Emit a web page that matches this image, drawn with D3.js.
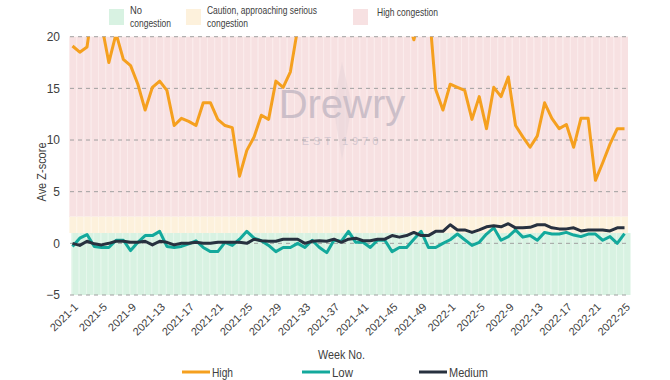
<!DOCTYPE html>
<html>
<head>
<meta charset="utf-8">
<script src="https://cdn.jsdelivr.net/npm/d3@7"></script>
<style>
  body { margin: 0; background: #fff; }
  svg text { fill: #404040; font-family: "Liberation Sans", Arial, sans-serif; }
</style>
</head>
<body>
<script>
'use strict';

// week labels: 2021-1 .. 2021-52, 2022-1 .. 2022-25
const weeks = [];
for (let w = 1; w <= 52; w++) weeks.push('2021-' + w);
for (let w = 1; w <= 25; w++) weeks.push('2022-' + w);

// labels shown on the x axis (every 4th week)
const tickWeeks = ['2021-1', '2021-5', '2021-9', '2021-13', '2021-17', '2021-21', '2021-25',
  '2021-29', '2021-33', '2021-37', '2021-41', '2021-45', '2021-49',
  '2022-1', '2022-5', '2022-9', '2022-13', '2022-17', '2022-21', '2022-25'];

const yTicks = [-5, 0, 5, 10, 15, 20];

// series values (High goes off the top of the chart)
const high = [19.1, 18.5, 19.0, 24, 21.2, 17.5, 20.3, 17.8, 17.2, 15.4,
  12.9, 15.1, 15.7, 14.8, 11.4, 12.1, 11.8, 11.4, 13.6, 13.6,
  12.0, 11.4, 11.2, 6.5, 9.0, 10.3, 12.4, 12.0, 15.7, 15.1,
  16.6, 20.8, 25, 27, 26, 28, 27, 25, 26, 24,
  25, 23, 24, 22, 23, 21.5, 22, 19.7, 22.5, 23.5,
  14.9, 12.9, 15.4, 15.1, 14.8, 12.0, 14.2, 11.1, 15.1, 14.2,
  16.1, 11.4, 10.3, 9.3, 10.4, 13.6, 12.1, 11.1, 11.5, 9.3,
  12.1, 12.1, 6.1, 7.8, 9.6, 11.1, 11.1];

const low = [-0.3, 0.5, 0.85, -0.3, -0.4, -0.4, 0.3, 0.3, -0.7, 0.1,
  0.75, 0.75, 1.16, -0.3, -0.4, -0.3, -0.05, 0.25, -0.4, -0.8,
  -0.8, 0.1, -0.2, 0.4, 1.16, 0.5, 0.25, -0.2, -0.8, -0.4,
  -0.4, 0.0, -0.4, 0.3, -0.4, -0.9, 0.3, 0.2, 1.16, 0.1,
  0.1, -0.4, 0.3, 0.3, -0.8, -0.4, -0.4, 0.4, 1.16, -0.4,
  -0.4, 0.0, 0.35, 0.9, 0.35, -0.2, 0.1, 0.9, 1.5, 0.3,
  0.65, 1.3, 0.6, 0.75, 0.3, 1.06, 0.9, 0.9, 1.06, 0.8,
  0.65, 0.9, 0.9, 0.3, 0.65, 0.0, 0.95];

const medium = [0, -0.2, 0.2, -0.05, -0.15, 0, 0.2, 0.2, 0.1, 0.1,
  0.2, -0.15, 0.2, 0.1, -0.15, 0, 0, 0.1, 0, 0,
  0.1, 0.1, 0.1, 0.1, 0, 0.4, 0.25, 0.2, 0.2, 0.4,
  0.4, 0.4, 0, 0.2, 0.25, 0.2, 0.4, 0.1, 0.4, 0.5,
  0.25, 0.25, 0.4, 0.4, 0.75, 0.6, 0.75, 1.06, 0.75, 0.75,
  1.16, 1.16, 1.8, 1.3, 1.3, 1.06, 1.3, 1.6, 1.7, 1.6,
  1.9, 1.5, 1.5, 1.55, 1.8, 1.8, 1.5, 1.4, 1.4, 1.5,
  1.2, 1.3, 1.3, 1.3, 1.2, 1.5, 1.5];

// congestion zones (background bands)
const zoneNames = ['No congestion', 'Caution, approaching serious congestion', 'High congestion'];
const zoneFrom = [-5, 1, 2.6];
const zoneTo = [1, 2.6, 20];

const seriesNames = ['High', 'Low', 'Medium'];

const zoneColors = ['#d8f2e2', '#fdf1dc', '#f7e1e2'];
const zoneStripe = ['#e6f7ec', '#fef7ea', '#fbecec'];
const seriesColors = ['#f5a01f', '#13a99c', '#27313f'];

const W = 670, H = 380;
const svg = d3.select('body').append('svg').attr('width', W).attr('height', H);

// squeeze a text to a given width (the original uses a condensed face)
function fit(sel, w) {
  sel.attr('textLength', w).attr('lengthAdjust', 'spacingAndGlyphs');
}

const y = d3.scaleLinear().domain([-5, 20]).range([295, 36.7]);
const xBand = d3.scaleBand().domain(weeks).range([69, 628]).padding(0);
const x = d3.scalePoint().domain(weeks).range([72.5, 624.5]);

// background bars, one per week, stacked by zone
zoneNames.forEach((z, k) => {
  const off = k === 0 ? 2.5 : 0;
  svg.append('g').selectAll('rect')
    .data(weeks)
    .enter()
    .append('rect')
      .attr('x', d => xBand(d) + off)
      .attr('y', y(zoneTo[k]))
      .attr('width', xBand.bandwidth())
      .attr('height', y(zoneFrom[k]) - y(zoneTo[k]))
      .attr('fill', zoneColors[k]);
  // light gap between the bars
  svg.append('g').selectAll('line')
    .data(weeks)
    .enter()
    .append('line')
      .attr('x1', d => xBand(d) + off + 0.5)
      .attr('x2', d => xBand(d) + off + 0.5)
      .attr('y1', y(zoneTo[k]))
      .attr('y2', y(zoneFrom[k]))
      .attr('stroke', zoneStripe[k])
      .attr('stroke-width', 1);
});

// watermark
const wm = svg.append('g').attr('opacity', 0.55);
wm.append('path')
  .attr('d', 'M342,62 L352,105 L342,160 L333,105 Z')
  .attr('fill', '#e8d6da');
wm.append('text')
  .attr('x', 342).attr('y', 118)
  .attr('text-anchor', 'middle')
  .style('font-size', '40px')
  .style('fill', '#a9a3b3')
  .text('Drewry');
wm.append('text')
  .attr('x', 342).attr('y', 145)
  .attr('text-anchor', 'middle')
  .style('font-size', '11px')
  .style('letter-spacing', '4px')
  .style('fill', '#b8b2c0')
  .text('EST 1970');

// dashed grid lines
svg.append('g').selectAll('line')
  .data(yTicks)
  .enter()
  .append('line')
    .attr('x1', 70).attr('x2', 628)
    .attr('y1', d => y(d)).attr('y2', d => y(d))
    .attr('stroke', '#a0a0a0')
    .attr('stroke-width', 1)
    .attr('stroke-dasharray', '4,4');

// y axis labels
const yAxis = d3.axisLeft(y).tickValues(yTicks).tickSize(0).tickPadding(0);
const gy = svg.append('g').attr('transform', 'translate(60,0)').call(yAxis);
gy.select('.domain').remove();
gy.selectAll('text').style('font-size', '12px').style('fill', '#404040')
  .attr('font-family', null);

const yTitle = svg.append('text')
  .attr('transform', 'translate(46,172) rotate(-90)')
  .attr('text-anchor', 'middle')
  .style('font-size', '12px')
  .text('Ave Z-score');
fit(yTitle, 59);

// x axis labels
const xAxis = d3.axisBottom(x).tickValues(tickWeeks).tickSize(0).tickPadding(0);
const gx = svg.append('g').attr('transform', 'translate(0,300)').call(xAxis);
gx.select('.domain').remove();
gx.selectAll('text')
  .style('font-size', '11px')
  .style('fill', '#404040')
  .attr('font-family', null)
  .attr('text-anchor', 'end')
  .attr('dy', '0.35em')
  .attr('transform', 'translate(3,5) rotate(-45)');

const xTitle = svg.append('text')
  .attr('x', 318).attr('y', 359)
  .style('font-size', '12px')
  .text('Week No.');
fit(xTitle, 47);

// lines
svg.append('clipPath').attr('id', 'plotClip')
  .append('rect').attr('x', 60).attr('y', y(20)).attr('width', 580).attr('height', y(-5) - y(20));

const line = d3.line()
  .x((d, i) => x(weeks[i]))
  .y(d => y(d));

[high, low, medium].forEach((s, k) => {
  svg.append('path')
    .datum(s)
    .attr('clip-path', 'url(#plotClip)')
    .attr('fill', 'none')
    .attr('stroke', seriesColors[k])
    .attr('stroke-width', 3)
    .attr('stroke-linejoin', 'round')
    .attr('d', line);
});

// top legend (zones)
const zoneLegX = [109, 186, 353];
const zoneLines = [['No', 'congestion'], ['Caution, approaching serious', 'congestion'], ['High congestion']];
const zoneLineW = [[12, 41], [110, 41], [61]];
zoneNames.forEach((z, k) => {
  svg.append('rect')
    .attr('x', zoneLegX[k]).attr('y', 9)
    .attr('width', 15).attr('height', 16)
    .attr('fill', zoneColors[k]);
  const tx = k === 2 ? zoneLegX[k] + 24 : zoneLegX[k] + 21;
  zoneLines[k].forEach((l, j) => {
    const base = zoneLines[k].length > 1 ? 13.5 + j * 13 : 16;
    const t = svg.append('text')
      .attr('x', tx).attr('y', base)
      .style('font-size', '11px')
      .text(l);
    fit(t, zoneLineW[k][j]);
  });
});

// bottom legend (series)
const serLegX = [182, 302, 419];
const serTextW = [21, 21, 39];
seriesNames.forEach((s, k) => {
  svg.append('line')
    .attr('x1', serLegX[k]).attr('x2', serLegX[k] + 28)
    .attr('y1', 372).attr('y2', 372)
    .attr('stroke', seriesColors[k])
    .attr('stroke-width', 3);
  const t = svg.append('text')
    .attr('x', serLegX[k] + 30).attr('y', 376.5)
    .style('font-size', '12px')
    .text(s);
  fit(t, serTextW[k]);
});
</script>
</body>
</html>
